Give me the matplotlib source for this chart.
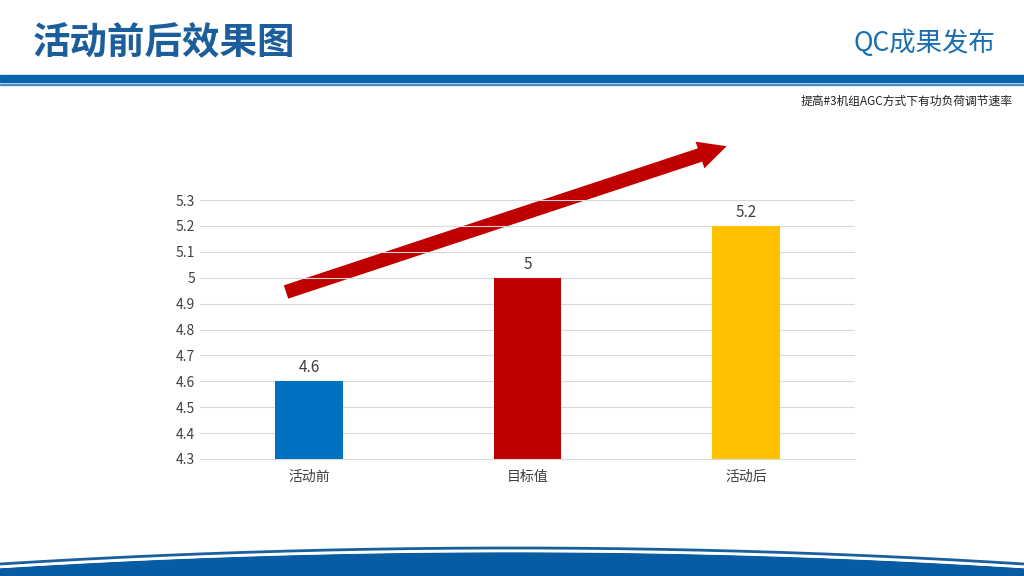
import numpy as np
import matplotlib.pyplot as plt
from matplotlib.patches import FancyArrow, Rectangle

plt.rcParams['font.family'] = ['Noto Sans CJK SC', 'DejaVu Sans']

categories = ["活动前", "目标值", "活动后"]
values = [4.6, 5.0, 5.2]
bar_colors = ["#0070c0", "#c00000", "#ffc000"]
yticks = [4.3, 4.4, 4.5, 4.6, 4.7, 4.8, 4.9, 5.0, 5.1, 5.2, 5.3]
ytick_labels = ["4.3", "4.4", "4.5", "4.6", "4.7", "4.8", "4.9", "5", "5.1", "5.2", "5.3"]
value_labels = ["4.6", "5", "5.2"]

fig = plt.figure(figsize=(10.24, 5.76), dpi=100)

# decoration layer in pixel coordinates
deco = fig.add_axes([0, 0, 1, 1])
deco.set_xlim(0, 1024)
deco.set_ylim(576, 0)
deco.axis("off")
deco.text(33, 43, "活动前后效果图", fontsize=27, fontweight="bold", color="#1c5e9c", va="center")
deco.text(995, 43, "QC成果发布", fontsize=19, color="#1a6fb0", va="center", ha="right")
deco.add_patch(Rectangle((0, 75), 1024, 7, color="#0a64ae"))
deco.add_patch(Rectangle((0, 83.5), 1024, 1.3, color="#4a8cc6"))
deco.text(1013, 101, "提高#3机组AGC方式下有功负荷调节速率", fontsize=8.5, color="#222222", ha="right", va="center")

# bottom arc band
xs = np.linspace(0, 1024, 200)
arc = 548 + 16 * ((xs - 512) / 512) ** 2
deco.fill_between(xs, arc + 5, 576, color="#075ca4")
deco.plot(xs, arc + 2.5, color="white", lw=2.2)
deco.plot(xs, arc, color="#1a5f9e", lw=2)

# trend arrow
deco.add_patch(FancyArrow(286, 292, 414, -137, width=14, head_width=28, head_length=28,
                          length_includes_head=False, color="#c00000", lw=0))

ax = fig.add_axes([200 / 1024, 1 - 459 / 576, 655 / 1024, 259 / 576])
x = np.arange(len(categories))
ax.bar(x, np.array(values) - 4.3, bottom=4.3, width=0.31, color=bar_colors, zorder=3)
for xi, v, lab in zip(x, values, value_labels):
    ax.text(xi, v + 0.02, lab, ha="center", va="bottom", fontsize=11, color="#404040")
ax.set_xlim(-0.5, 2.5)
ax.set_ylim(4.3, 5.3)
ax.set_yticks(yticks)
ax.set_yticklabels(ytick_labels)
ax.set_xticks(x)
ax.set_xticklabels(categories)
ax.tick_params(length=0, labelsize=10, colors="#404040")
ax.tick_params(axis="x", pad=8)
ax.grid(axis="y", color="#d9d9d9", lw=0.8, zorder=0)
for s in ["top", "left", "right"]:
    ax.spines[s].set_visible(False)
ax.spines["bottom"].set_color("#d9d9d9")
ax.patch.set_alpha(0)

fig.savefig("out.png", dpi=100)
